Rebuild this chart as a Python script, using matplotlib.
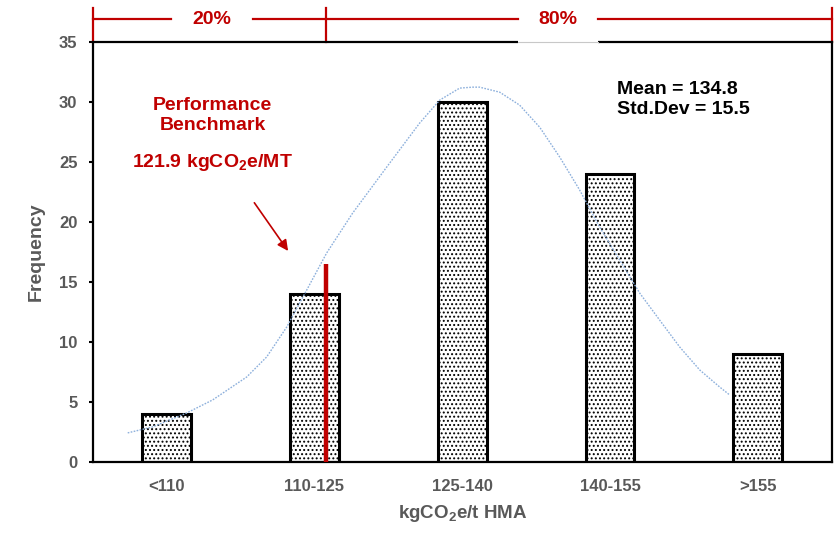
import matplotlib

matplotlib.use("Agg")
import matplotlib.pyplot as plt
import matplotlib.transforms as mtransforms
from matplotlib.patches import Rectangle

plt.rcParams["font.family"] = ["Liberation Sans", "DejaVu Sans"]
plt.rcParams["font.weight"] = "bold"
plt.rcParams["mathtext.fontset"] = "custom"
plt.rcParams["mathtext.rm"] = "Liberation Sans:bold"
plt.rcParams["mathtext.bf"] = "Liberation Sans:bold"
plt.rcParams["hatch.color"] = "#808080"
plt.rcParams["hatch.linewidth"] = 0.9

# histogram bins (kgCO2e/t HMA) and counts
categories = ["<110", "110-125", "125-140", "140-155", ">155"]
frequency = [4, 14, 30, 24, 9]

# fitted normal curve (x in category positions)
curve_x = [-0.263, -0.094, 0.136, 0.312, 0.542, 0.677, 0.813, 0.948, 1.083,
           1.259, 1.489, 1.712, 1.848, 1.983, 2.071, 2.118, 2.254, 2.389,
           2.524, 2.660, 2.795, 2.930, 3.066, 3.201, 3.336, 3.472, 3.607,
           3.742, 3.810]
curve_y = [2.42, 2.92, 4.08, 5.17, 7.08, 8.75, 11.25, 14.33, 17.42,
           20.75, 24.58, 28.25, 30.17, 31.17, 31.25, 31.25, 30.83, 29.75,
           27.92, 25.42, 22.67, 19.58, 16.83, 14.08, 11.83, 9.58, 7.67,
           6.25, 5.58]

mean_val = 134.8
std_val = 15.5
benchmark = 121.9
benchmark_pos = 1.08   # where the benchmark line sits on the category axis
benchmark_height = 16.5
share_labels = ["20%", "80%"]

RED = "#C00000"
GREY = "#595959"

fig = plt.figure(figsize=(8.35, 5.34), dpi=100)
ax = fig.add_axes([0.111, 0.135, 0.885, 0.786])

xs = range(len(categories))
ax.bar(xs, frequency, width=0.33, color="white", edgecolor="black",
       linewidth=2.2, hatch="....", zorder=2)
ax.plot(curve_x, curve_y, color="#8DB0DC", lw=1.0, ls=(0, (1.2, 1.0)), zorder=3)
ax.plot([benchmark_pos, benchmark_pos], [0, benchmark_height], color=RED,
        lw=3.2, zorder=4, solid_capstyle="butt")

ax.set_xlim(-0.5, len(categories) - 0.5)
ax.set_ylim(0, 35)
ax.set_yticks(range(0, 36, 5))
ax.set_xticks(list(xs))
ax.set_xticklabels(categories)
ax.tick_params(axis="x", length=0, pad=12, labelsize=12, labelcolor=GREY)
ax.tick_params(axis="y", length=3, width=1.5, direction="out", labelsize=12,
               labelcolor=GREY, pad=8)
for s in ax.spines.values():
    s.set_linewidth(1.6)
    s.set_color("black")

ax.set_xlabel("kgCO$_\\mathrm{2}$e/t HMA", fontsize=13.5, color=GREY,
              fontweight="bold", labelpad=7)
ax.set_ylabel("Frequency", fontsize=14, color=GREY, fontweight="bold",
              labelpad=10)

# annotations
ax.text(0.31, 28.9, "Performance\nBenchmark", ha="center", va="center",
        color=RED, fontsize=14, fontweight="bold", linespacing=1.2)
ax.text(0.31, 25.0, f"{benchmark} kgCO$_\\mathrm{{2}}$e/MT", ha="center",
        va="center", color=RED, fontsize=14, fontweight="bold")
ax.annotate("", xy=(0.833, 17.4), xytext=(0.583, 21.8),
            arrowprops=dict(arrowstyle="-|>", color=RED, lw=1.2,
                            mutation_scale=16))
ax.text(3.045, 30.2, f"Mean = {mean_val}\nStd.Dev = {std_val}", ha="left",
        va="center", color="black", fontsize=14, fontweight="bold",
        linespacing=1.2)

# 20% / 80% bracket above the plot
tr = mtransforms.blended_transform_factory(ax.transData, ax.transAxes)
seg_y = 1.055
for x0, x1 in [(-0.5, 0.028), (0.583, 2.376), (2.917, 4.5)]:
    ax.plot([x0, x1], [seg_y, seg_y], color=RED, lw=1.6, transform=tr,
            clip_on=False)
for xv in [-0.5, benchmark_pos, 4.5]:
    ax.plot([xv, xv], [1.0, 1.081], color=RED, lw=1.6, transform=tr,
            clip_on=False)
ax.add_patch(Rectangle((2.376, 0.99), 0.541, 0.02, transform=tr,
                       facecolor="white", edgecolor="none", clip_on=False,
                       zorder=5))
ax.plot([2.376, 2.917], [1.0, 1.0], color="#c8c8c8", lw=0.8, transform=tr,
        clip_on=False, zorder=6)
ax.text(0.305, seg_y, share_labels[0], ha="center", va="center", color=RED,
        fontsize=14, fontweight="bold", transform=tr)
ax.text(2.65, seg_y, share_labels[1], ha="center", va="center", color=RED,
        fontsize=14, fontweight="bold", transform=tr)

fig.savefig("out.png", dpi=100)
